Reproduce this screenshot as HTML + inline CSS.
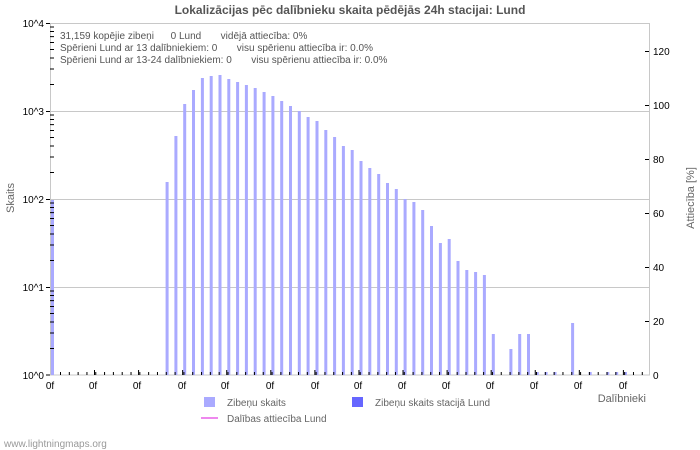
<!DOCTYPE html>
<html><head><meta charset="utf-8"><style>
body{margin:0;background:#fff;}
svg{display:block;font-family:"Liberation Sans","DejaVu Sans",sans-serif;}
.pre{white-space:pre;}
</style></head><body>
<svg width="700" height="450" viewBox="0 0 700 450" xmlns="http://www.w3.org/2000/svg">
<rect width="700" height="450" fill="#fff"/>
<text x="350" y="14" text-anchor="middle" font-size="12" font-weight="bold" fill="#555">Lokalizācijas pēc dalībnieku skaita pēdējās 24h stacijai: Lund</text>
<g stroke="#c8c8c8" stroke-width="1">
<line x1="50" y1="111.5" x2="650" y2="111.5"/>
<line x1="50" y1="199.5" x2="650" y2="199.5"/>
<line x1="50" y1="287.5" x2="650" y2="287.5"/>
<rect x="50.5" y="23.5" width="599" height="351.5" fill="none"/>
</g>
<g fill="#aaaaff">
<rect x="51" y="200" width="3" height="175"/>
<rect x="165.6" y="182" width="3" height="193"/>
<rect x="174.4" y="136" width="3" height="239"/>
<rect x="183.2" y="104" width="3" height="271"/>
<rect x="192" y="90" width="3" height="285"/>
<rect x="200.9" y="78" width="3" height="297"/>
<rect x="209.7" y="76" width="3" height="299"/>
<rect x="218.5" y="75" width="3" height="300"/>
<rect x="227.3" y="79" width="3" height="296"/>
<rect x="236.1" y="82" width="3" height="293"/>
<rect x="244.9" y="85" width="3" height="290"/>
<rect x="253.7" y="88" width="3" height="287"/>
<rect x="262.6" y="92" width="3" height="283"/>
<rect x="271.4" y="96" width="3" height="279"/>
<rect x="280.2" y="101" width="3" height="274"/>
<rect x="289" y="106" width="3" height="269"/>
<rect x="297.8" y="111" width="3" height="264"/>
<rect x="306.6" y="117" width="3" height="258"/>
<rect x="315.5" y="121" width="3" height="254"/>
<rect x="324.3" y="130" width="3" height="245"/>
<rect x="333.1" y="137" width="3" height="238"/>
<rect x="341.9" y="146" width="3" height="229"/>
<rect x="350.7" y="150" width="3" height="225"/>
<rect x="359.5" y="161" width="3" height="214"/>
<rect x="368.3" y="168" width="3" height="207"/>
<rect x="377.2" y="174" width="3" height="201"/>
<rect x="386" y="183" width="3" height="192"/>
<rect x="394.8" y="189" width="3" height="186"/>
<rect x="403.6" y="199" width="3" height="176"/>
<rect x="412.4" y="202" width="3" height="173"/>
<rect x="421.2" y="210" width="3" height="165"/>
<rect x="430" y="226" width="3" height="149"/>
<rect x="438.9" y="243" width="3" height="132"/>
<rect x="447.7" y="239" width="3" height="136"/>
<rect x="456.5" y="261" width="3" height="114"/>
<rect x="465.3" y="270" width="3" height="105"/>
<rect x="474.1" y="272" width="3" height="103"/>
<rect x="482.9" y="275" width="3" height="100"/>
<rect x="491.8" y="334" width="3" height="41"/>
<rect x="509.4" y="349" width="3" height="26"/>
<rect x="518.2" y="334" width="3" height="41"/>
<rect x="527" y="334" width="3" height="41"/>
<rect x="535.8" y="372" width="3" height="3"/>
<rect x="544.6" y="372" width="3" height="3"/>
<rect x="553.5" y="372" width="3" height="3"/>
<rect x="571.1" y="323" width="3" height="52"/>
<rect x="588.7" y="372" width="3" height="3"/>
<rect x="606.3" y="372" width="3" height="3"/>
<rect x="615.2" y="372" width="3" height="3"/>
<rect x="624" y="372" width="3" height="3"/>
</g>
<line x1="60" y1="373.5" x2="646" y2="373.5" stroke="#000" stroke-width="3" stroke-dasharray="1 7.815"/>
<line x1="94" y1="372.5" x2="646" y2="372.5" stroke="#000" stroke-width="5" stroke-dasharray="1 43.075"/>
<g stroke="#000" stroke-width="1">
<path d="M50 348.5h4M50 333h4M50 322h4M50 313.5h4M50 306.5h4M50 300.6h4M50 295.5h4M50 291h4
M50 260.5h4M50 245h4M50 234h4M50 225.5h4M50 218.5h4M50 212.6h4M50 207.5h4M50 203h4
M50 172.5h4M50 157h4M50 146h4M50 137.5h4M50 130.5h4M50 124.6h4M50 119.5h4M50 115h4
M50 84.5h4M50 69h4M50 58h4M50 49.5h4M50 42.5h4M50 36.6h4M50 31.5h4M50 27h4
M46 375h4M46 287.5h4M46 199.5h4M46 111.5h4M46 23.5h4"/>
<path d="M645 321.5h4M645 267.5h4M645 213.5h4M645 159.5h4M645 105.5h4M645 51.5h4"/>
</g>
<g font-size="10" fill="#000">
<text x="44" y="379" text-anchor="end">10^0</text>
<text x="44" y="291" text-anchor="end">10^1</text>
<text x="44" y="203" text-anchor="end">10^2</text>
<text x="44" y="115" text-anchor="end">10^3</text>
<text x="44" y="27" text-anchor="end">10^4</text>
<text x="653" y="379">0</text>
<text x="653" y="325">20</text>
<text x="653" y="271">40</text>
<text x="653" y="217">60</text>
<text x="653" y="163">80</text>
<text x="653" y="109">100</text>
<text x="653" y="55">120</text>
</g>
<g font-size="10" fill="#000" text-anchor="middle">
<text x="50" y="389">0f</text><text x="93" y="389">0f</text><text x="137" y="389">0f</text><text x="182" y="389">0f</text><text x="225" y="389">0f</text><text x="270" y="389">0f</text><text x="315" y="389">0f</text><text x="358" y="389">0f</text><text x="402" y="389">0f</text><text x="446" y="389">0f</text><text x="490" y="389">0f</text><text x="534" y="389">0f</text><text x="578" y="389">0f</text><text x="623" y="389">0f</text>
</g>
<g font-size="10" fill="#555" class="pre">
<text class="pre" x="60" y="39">31,159 kopējie zibeņi      0 Lund       vidējā attiecība: 0%</text>
<text class="pre" x="60" y="51">Spērieni Lund ar 13 dalībniekiem: 0       visu spērienu attiecība ir: 0.0%</text>
<text class="pre" x="60" y="63">Spērieni Lund ar 13-24 dalībniekiem: 0       visu spērienu attiecība ir: 0.0%</text>
</g>
<text x="646" y="402" font-size="11" fill="#666" text-anchor="end">Dalībnieki</text>
<text transform="translate(14,198) rotate(-90)" font-size="11" fill="#666" text-anchor="middle">Skaits</text>
<text transform="translate(694,198) rotate(-90)" font-size="11" fill="#666" text-anchor="middle">Attiecība [%]</text>
<rect x="204" y="397" width="11" height="10" fill="#aaaaff"/>
<text x="227" y="406" font-size="10" fill="#666">Zibeņu skaits</text>
<rect x="352" y="397" width="11" height="10" fill="#6666ff"/>
<text x="375" y="406" font-size="10" fill="#666">Zibeņu skaits stacijā Lund</text>
<line x1="201" y1="418" x2="218" y2="418" stroke="#ee88ee" stroke-width="2"/>
<text x="227" y="422" font-size="10" fill="#666">Dalības attiecība Lund</text>
<text x="4" y="447" font-size="10" fill="#999">www.lightningmaps.org</text>
</svg>
</body></html>
